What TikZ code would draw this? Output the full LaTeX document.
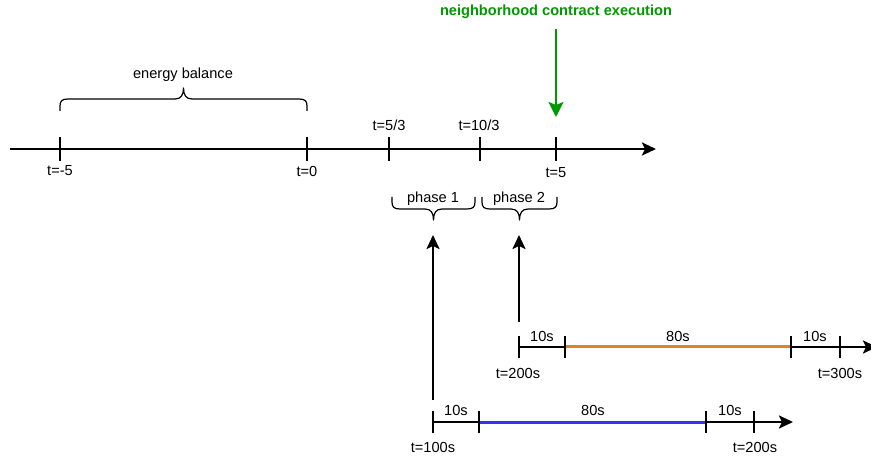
\documentclass[tikz,border=0pt]{standalone}
\usepackage{fontspec}
\setmainfont{Liberation Sans}
\usetikzlibrary{arrows.meta}
\definecolor{ncgreen}{RGB}{0,153,0}
\definecolor{phorange}{RGB}{230,128,36}
\definecolor{phblue}{RGB}{51,51,240}
\begin{document}
\begin{tikzpicture}[x=1pt,y=-1pt,
  axis/.style={line width=2.4pt,-{Stealth[length=14pt,width=13pt,inset=3pt]}},
  tickmark/.style={line width=2.4pt},
  lbl/.style={font=\fontsize{14.6}{17}\selectfont,inner sep=0pt},
  bracestyle/.style={line width=1.2pt,line join=round},
  garrow/.style={ncgreen,line width=2.4pt,-{Stealth[length=15pt,width=15pt,inset=3pt]}},
  seg/.style={line width=3pt}]
\useasboundingbox (0,0) rectangle (871,457);

% main time axis
\coordinate (a0) at (10,149);
\coordinate (a1) at (656,149);
\draw[axis] (a0) -- (a1);
\foreach \n/\x in {m5/60,z/307,p53/389,p103/480,p5/556}{
  \coordinate (t\n) at (\x,149);
  \draw[tickmark] ([yshift=-12pt]t\n) -- ([yshift=12pt]t\n);
}
\node[lbl] (lm5) at (60,171) {t=-5};
\node[lbl] (lz) at (307,171) {t=0};
\node[lbl] (lp53) at (389,125) {t=5/3};
\node[lbl] (lp103) at (479,125) {t=10/3};
\node[lbl] (lp5) at (556,173) {t=5};

% energy balance brace
\node[lbl] (leb) at (183,75) {energy balance};
\draw[bracestyle] (60,111) -- (60,106) .. controls (60,101) and (62,99) .. (68,99)
  -- (175,99) .. controls (181,99) and (183.5,95) .. (183.5,88)
  .. controls (183.5,95) and (186,99) .. (192,99)
  -- (299,99) .. controls (305,99) and (307,101) .. (307,106) -- (307,111);

% phase braces
\node[lbl] (ph1) at (433,199) {phase 1};
\node[lbl] (ph2) at (519,199) {phase 2};
\draw[bracestyle] (392,197) -- (392,202) .. controls (392,207) and (394,209) .. (400,209)
  -- (425,209) .. controls (431,209) and (433.5,213) .. (433.5,220)
  .. controls (433.5,213) and (436,209) .. (442,209)
  -- (467,209) .. controls (473,209) and (475,207) .. (475,202) -- (475,197);
\draw[bracestyle] (482,197) -- (482,202) .. controls (482,207) and (484,209) .. (490,209)
  -- (511,209) .. controls (517,209) and (519.5,213) .. (519.5,220)
  .. controls (519.5,213) and (522,209) .. (528,209)
  -- (549,209) .. controls (555,209) and (557,207) .. (557,202) -- (557,197);

% contract execution marker
\node[lbl,font=\fontsize{14.6}{17}\selectfont\bfseries,text=ncgreen] (nce) at (556,12) {neighborhood contract execution};
\coordinate (gtip) at (556,117);
\draw[garrow] ([yshift=-10pt]nce.south) -- (gtip);

% second period (t=200s .. t=300s)
\coordinate (o0) at (519,347);
\coordinate (oend) at (877,347);
\draw[axis] (o0) -- (oend);
\coordinate (o1) at (565,347);
\coordinate (o2) at (791,347);
\coordinate (o3) at (840,347);
\draw[seg,phorange] (o1) -- (o2);
\foreach \p in {o0,o1,o2,o3}{
  \draw[tickmark] ([yshift=-11pt]\p) -- ([yshift=11pt]\p);
}
\node[lbl] (od1) at (542,336) {10s};
\node[lbl] (od2) at (678,336) {80s};
\node[lbl] (od3) at (815,336) {10s};
\node[lbl] (ot0) at (518,373) {t=200s};
\node[lbl] (ot1) at (840,373) {t=300s};

% first period (t=100s .. t=200s)
\coordinate (b0) at (433,422);
\coordinate (bend) at (793,422);
\draw[axis] (b0) -- (bend);
\coordinate (b1) at (479,422);
\coordinate (b2) at (706,422);
\coordinate (b3) at (754,422);
\draw[seg,phblue] (b1) -- (b2);
\foreach \p in {b0,b1,b2,b3}{
  \draw[tickmark] ([yshift=-11pt]\p) -- ([yshift=11pt]\p);
}
\node[lbl] (bd1) at (456,410) {10s};
\node[lbl] (bd2) at (593,410) {80s};
\node[lbl] (bd3) at (730,410) {10s};
\node[lbl] (bt0) at (433,447) {t=100s};
\node[lbl] (bt1) at (755,447) {t=200s};

% links from each period to its phase
\coordinate (ph1tip) at (433,235);
\coordinate (ph2tip) at (519,235);
\draw[axis] ([yshift=22pt]b0) -- (ph1tip);
\draw[axis] ([yshift=25pt]o0) -- (ph2tip);
\end{tikzpicture}
\end{document}
